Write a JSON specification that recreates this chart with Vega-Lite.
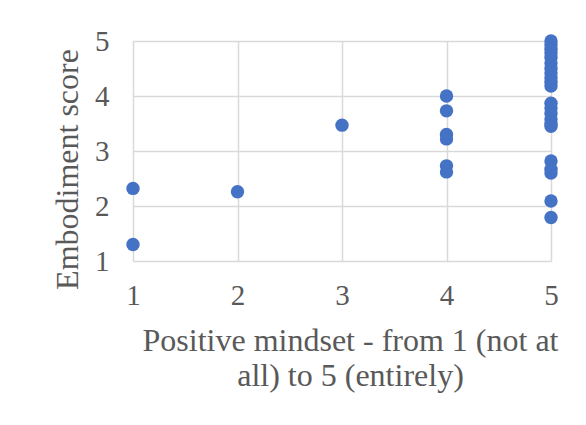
{
  "$schema": "https://vega.github.io/schema/vega-lite/v6.json",
  "width": 418,
  "height": 220,
  "autosize": "none",
  "padding": {"left": 133, "top": 41, "right": 35, "bottom": 164},
  "background": "white",
  "config": {
    "view": {"stroke": null},
    "font": "Liberation Serif"
  },
  "data": {
    "values": [
      {"mindset": 1, "score": 2.32},
      {"mindset": 1, "score": 1.3},
      {"mindset": 2, "score": 2.26},
      {"mindset": 3, "score": 3.47},
      {"mindset": 4, "score": 4.0},
      {"mindset": 4, "score": 3.73},
      {"mindset": 4, "score": 3.3},
      {"mindset": 4, "score": 3.22},
      {"mindset": 4, "score": 2.73},
      {"mindset": 4, "score": 2.62},
      {"mindset": 5, "score": 5.0},
      {"mindset": 5, "score": 4.93},
      {"mindset": 5, "score": 4.85},
      {"mindset": 5, "score": 4.78},
      {"mindset": 5, "score": 4.7},
      {"mindset": 5, "score": 4.6},
      {"mindset": 5, "score": 4.5},
      {"mindset": 5, "score": 4.42},
      {"mindset": 5, "score": 4.33},
      {"mindset": 5, "score": 4.25},
      {"mindset": 5, "score": 4.18},
      {"mindset": 5, "score": 3.87},
      {"mindset": 5, "score": 3.78},
      {"mindset": 5, "score": 3.68},
      {"mindset": 5, "score": 3.58},
      {"mindset": 5, "score": 3.5},
      {"mindset": 5, "score": 3.45},
      {"mindset": 5, "score": 2.82},
      {"mindset": 5, "score": 2.67},
      {"mindset": 5, "score": 2.6},
      {"mindset": 5, "score": 2.09},
      {"mindset": 5, "score": 1.79}
    ]
  },
  "mark": {"type": "circle", "size": 180, "color": "#4472C4", "opacity": 1},
  "encoding": {
    "x": {
      "field": "mindset",
      "type": "quantitative",
      "scale": {"domain": [1, 5], "nice": false, "zero": false},
      "axis": {
        "values": [1, 2, 3, 4, 5],
        "title": ["Positive mindset - from 1 (not at", "all) to 5 (entirely)"],
        "titleFont": "Liberation Serif",
        "titleFontSize": 32,
        "titleFontWeight": "normal",
        "titleColor": "#595959",
        "titleLineHeight": 35,
        "titlePadding": 15,
        "titleX": 217,
        "labelFont": "Liberation Serif",
        "labelFontSize": 29,
        "labelColor": "#595959",
        "labelPadding": 20,
        "labelFlush": false,
        "ticks": false,
        "domain": false,
        "grid": true,
        "gridColor": "#d9d9d9",
        "gridWidth": 1.5
      }
    },
    "y": {
      "field": "score",
      "type": "quantitative",
      "scale": {"domain": [1, 5], "nice": false, "zero": false},
      "axis": {
        "values": [1, 2, 3, 4, 5],
        "title": "Embodiment score",
        "titleFont": "Liberation Serif",
        "titleFontSize": 32,
        "titleFontWeight": "normal",
        "titleColor": "#595959",
        "titlePadding": 10,
        "titleY": 128,
        "labelFont": "Liberation Serif",
        "labelFontSize": 29,
        "labelColor": "#595959",
        "labelPadding": 24,
        "labelFlush": false,
        "ticks": false,
        "domain": false,
        "grid": true,
        "gridColor": "#d9d9d9",
        "gridWidth": 1.5
      }
    }
  }
}
